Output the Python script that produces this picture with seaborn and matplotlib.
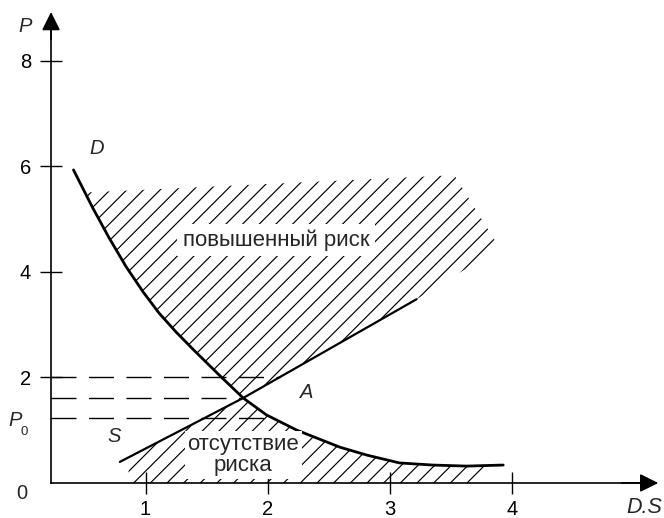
import matplotlib
matplotlib.use("Agg")
import matplotlib.pyplot as plt
import seaborn as sns
import numpy as np

# ---- data ----
d_x = [0.41, 0.57, 0.70, 0.84, 0.98, 1.11, 1.25, 1.39, 1.61, 1.80, 1.99, 2.24, 2.59, 2.81, 3.08, 3.35, 3.63, 3.93]
d_y = [5.93, 5.20, 4.65, 4.10, 3.62, 3.22, 2.86, 2.53, 2.03, 1.61, 1.29, 1.00, 0.68, 0.53, 0.38, 0.34, 0.32, 0.34]
s_x = [0.79, 1.80, 3.22]
s_y = [0.40, 1.61, 3.48]
price_levels = [2.00, 1.61, 1.23]
price_level_ends = [2.10, 1.80, 2.00]
x_ticks = [1, 2, 3, 4]
y_ticks = [2, 4, 6, 8]
# corners of the hatched "high risk" zone (besides the D and S curves)
high_zone_x = [3.90, 3.53, 0.49]
high_zone_y = [4.45, 5.83, 5.50]
# corners of the hatched "no risk" zone (besides the D and S curves)
low_zone_x = [3.78, 3.75, 0.87, 0.85]
low_zone_y = [0.33, 0.00, 0.00, 0.47]

AXIS_X = 0.226

sns.set_theme(style="white")
plt.rcParams["font.family"] = ["Liberation Sans", "DejaVu Sans"]
plt.rcParams["hatch.linewidth"] = 0.85

fig = plt.figure(figsize=(6.64, 5.18), dpi=100)
ax = fig.add_axes([0, 0, 1, 1])
ax.set_xlim(-0.192, 5.247)
ax.set_ylim(-0.663, 9.148)

dx = np.array(d_x); dy = np.array(d_y)
sx = np.array(s_x); sy = np.array(s_y)

# high risk zone polygon
m = (dx >= 0.5) & (dx <= 1.80)
hx = [0.49] + list(dx[m]) + list(sx[1:]) + high_zone_x
hy = [5.50] + list(dy[m]) + list(sy[1:]) + high_zone_y
ax.fill(hx, hy, facecolor="none", edgecolor="black", linewidth=0, hatch="//", zorder=1)

# no risk zone polygon
s_start_y = sy[0] + (sy[1] - sy[0]) / (sx[1] - sx[0]) * (0.85 - sx[0])
m2 = (dx >= 1.80) & (dx <= 3.70)
lx = [0.85, sx[1]] + list(dx[m2]) + low_zone_x[:3]
ly = [s_start_y, sy[1]] + list(dy[m2]) + low_zone_y[:3]
ax.fill(lx, ly, facecolor="none", edgecolor="black", linewidth=0, hatch="//", zorder=1)

# dashed price levels
for lev, end in zip(price_levels, price_level_ends):
    ax.plot([AXIS_X, end], [lev, lev], color="black", lw=1.0, dashes=(18, 9), zorder=2)

# curves
sns.lineplot(x=d_x, y=d_y, ax=ax, color="black", lw=2.0, sort=False, estimator=None, zorder=3)
sns.lineplot(x=s_x, y=s_y, ax=ax, color="black", lw=1.6, sort=False, estimator=None, zorder=3)

# axes
for side in ["top", "right"]:
    ax.spines[side].set_visible(False)
ax.spines["left"].set_position(("data", AXIS_X))
ax.spines["bottom"].set_position(("data", 0))
ax.spines["left"].set_bounds(0, 8.7)
ax.spines["bottom"].set_bounds(AXIS_X, 5.1)
for side in ["left", "bottom"]:
    ax.spines[side].set_color("black")
    ax.spines[side].set_linewidth(1.2)
ax.annotate("", xy=(AXIS_X, 8.92), xytext=(AXIS_X, 8.4),
            arrowprops=dict(arrowstyle="-|>", color="black", lw=1.2, mutation_scale=28,
                            shrinkA=0, shrinkB=0))
ax.annotate("", xy=(5.20, 0), xytext=(4.9, 0),
            arrowprops=dict(arrowstyle="-|>", color="black", lw=1.2, mutation_scale=28,
                            shrinkA=0, shrinkB=0))

ax.set_xticks(x_ticks)
ax.set_yticks(y_ticks)
ax.set_xticklabels([str(v) for v in x_ticks])
ax.set_yticklabels([str(v) for v in y_ticks])
ax.tick_params(axis="y", direction="inout", length=16, width=1.0, color="black",
               labelsize=14.5, labelcolor="black", pad=6.5, left=True)
ax.tick_params(axis="x", direction="inout", length=16, width=1.0, color="black",
               labelsize=14.5, labelcolor="black", pad=4.5, bottom=True)
ax.grid(False)

# labels
fs = 14.5
ax.text(-0.013, -0.19, "0", fontsize=fs, ha="center", va="center")
ax.text(0.013, 8.64, "P", fontsize=fs, style="italic", ha="center", va="center")
ax.text(-0.07, 1.19, "P", fontsize=fs, style="italic", ha="center", va="center")
ax.text(0.01, 0.97, "0", fontsize=9.5, ha="center", va="center")
ax.text(0.60, 6.34, "D", fontsize=fs, style="italic", ha="center", va="center")
ax.text(0.74, 0.89, "S", fontsize=fs, style="italic", ha="center", va="center")
ax.text(2.32, 1.72, "A", fontsize=fs, style="italic", ha="center", va="center")
ax.text(5.23, -0.47, "D.S", fontsize=15.5, style="italic", ha="right", va="center")

ax.text(2.07, 4.60, "повышенный риск", fontsize=16, ha="center", va="center", zorder=5,
        bbox=dict(facecolor="white", edgecolor="none", pad=4))
ax.text(1.80, 0.53, "отсутствие\nриска", fontsize=16, ha="center", va="center",
        linespacing=1.05, zorder=5,
        bbox=dict(facecolor="white", edgecolor="none", pad=2))

fig.savefig("out.png", dpi=100)
